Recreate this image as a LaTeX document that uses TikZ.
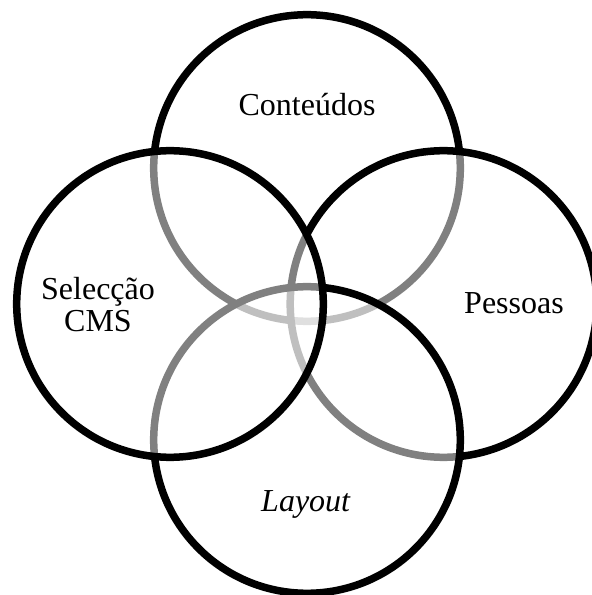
\documentclass[tikz,border=0pt]{standalone}
\usepackage{fontspec}
\setmainfont{Liberation Serif}
\usepackage{tikz}

\begin{document}
\begin{tikzpicture}[x=1pt,y=1pt,
    ring/.style={line width=7.5pt,draw=black,fill=white,fill opacity=0.5},
    label/.style={font=\fontsize{32}{32}\selectfont,align=center}]
    % 画布
    \useasboundingbox (0,0) rectangle (592,595);

    % 圆心
    \coordinate (C) at (307,427);
    \coordinate (P) at (443.5,291);
    \coordinate (L) at (307,155);
    \coordinate (S) at (170,291);

    % 四个圆（从下到上）
    \draw[ring] (C) circle (153.3);
    \draw[ring] (P) circle (153.3);
    \draw[ring] (L) circle (153.3);
    \draw[ring] (S) circle (153.3);

    % 标注
    \node[label] (cont) at (307,490) {Conteúdos};
    \node[label] (pess) at (514,292) {Pessoas};
    \node[label] (lay) at (306,91) {\textit{Layout}};
    \node[label] (sel) at (98,290) {Selecção\\CMS};
\end{tikzpicture}
\end{document}
